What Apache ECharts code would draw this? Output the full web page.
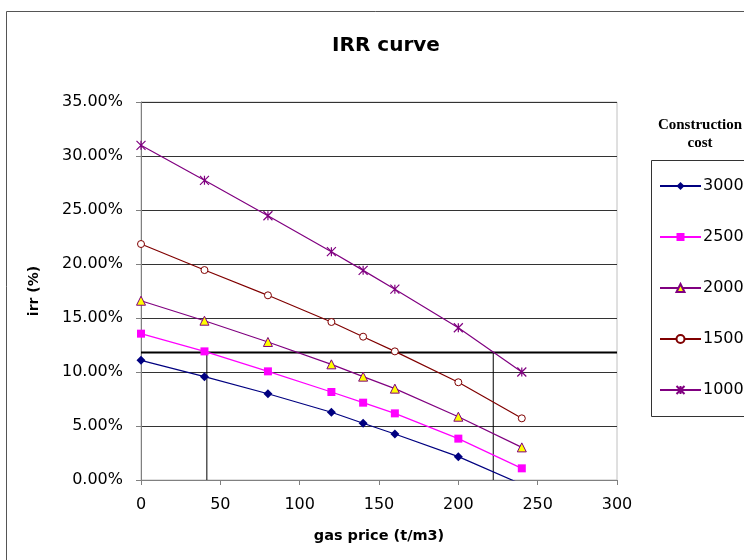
<!DOCTYPE html>
<html>
<head>
<meta charset="utf-8">
<script src="https://cdn.jsdelivr.net/npm/echarts@6/dist/echarts.min.js"></script>
<style>html,body{margin:0;padding:0;background:#fff;}#c{width:744px;height:560px;}</style>
</head>
<body>
<div id="c"></div>
<script>
// gas price (t/m3)
var gasPrice = [0, 40, 80, 120, 140, 160, 200, 240];
// irr (%) per construction cost
var irr3000 = [11.08, 9.57, 7.99, 6.27, 5.25, 4.26, 2.16, -0.4];
var irr2500 = [13.55, 11.91, 10.06, 8.15, 7.16, 6.17, 3.83, 1.08];
var irr2000 = [16.60, 14.75, 12.78, 10.71, 9.57, 8.46, 5.86, 3.02];
var irr1500 = [21.85, 19.44, 17.10, 14.63, 13.27, 11.91, 9.05, 5.71];
var irr1000 = [30.99, 27.75, 24.47, 21.14, 19.41, 17.67, 14.10, 10.00];
var seriesNames = ['3000', '2500', '2000', '1500', '1000'];
// reference lines
var targetIrr = 11.8;
var targetPrices = [41.5, 222];
var xMin = 0, xMax = 300, xStep = 50;
var yMin = 0, yMax = 35, yStep = 5;

function pairs(xs, ys) { return xs.map(function (x, i) { return [x, ys[i]]; }); }

var starPath = 'path://M0,0L10,10M10,0L0,10M5,0L5,10';

var chart = echarts.init(document.getElementById('c'));
var font = 'DejaVu Sans, Verdana, sans-serif';

var series = [
  { name: seriesNames[0], data: pairs(gasPrice, irr3000), color: '#000080', symbol: 'diamond', symbolSize: 9,
    itemStyle: { color: '#000080' } },
  { name: seriesNames[1], data: pairs(gasPrice, irr2500), color: '#FF00FF', symbol: 'rect', symbolSize: 8,
    itemStyle: { color: '#FF00FF' } },
  { name: seriesNames[2], data: pairs(gasPrice, irr2000), color: '#800080', symbol: 'triangle', symbolSize: 9,
    itemStyle: { color: '#FFFF00', borderColor: '#800080', borderWidth: 1 } },
  { name: seriesNames[3], data: pairs(gasPrice, irr1500), color: '#800000', symbol: 'circle', symbolSize: 7,
    itemStyle: { color: '#ffffff', borderColor: '#800000', borderWidth: 1 } },
  { name: seriesNames[4], data: pairs(gasPrice, irr1000), color: '#800080', symbol: starPath, symbolSize: 9,
    itemStyle: { color: 'rgba(0,0,0,0)', borderColor: '#800080', borderWidth: 1.2 } }
].map(function (s) {
  return {
    name: s.name, type: 'line', data: s.data, symbol: s.symbol, symbolSize: s.symbolSize,
    showSymbol: true, clip: true, animation: false,
    lineStyle: { color: s.color, width: 1.2 },
    itemStyle: s.itemStyle, z: 3
  };
});

series.push({
  name: 'target', type: 'line', data: [[xMin, targetIrr], [xMax, targetIrr]],
  symbol: 'none', lineStyle: { color: '#000', width: 2 }, animation: false, z: 2, silent: true
});
targetPrices.forEach(function (p, i) {
  series.push({
    name: 'tp' + i, type: 'line', data: [[p, yMin], [p, targetIrr]],
    symbol: 'none', lineStyle: { color: '#000', width: 1 }, animation: false, z: 2, silent: true
  });
});

chart.setOption({
  backgroundColor: '#fff',
  animation: false,
  title: {
    text: 'IRR curve', left: 381, top: 31, textAlign: 'center',
    textStyle: { fontFamily: font, fontSize: 20, fontWeight: 'bold', color: '#000' }
  },
  grid: { left: 141, top: 102, width: 476, height: 378, show: true, borderColor: '#c0c0c0', borderWidth: 1 },
  legend: {
    data: seriesNames, orient: 'vertical', left: 659, top: 178, padding: 0,
    itemWidth: 41, itemHeight: 10, itemGap: 35,
    textStyle: { fontFamily: font, fontSize: 16, color: '#000', padding: [0, 0, 0, -3] }
  },
  xAxis: {
    type: 'value', min: xMin, max: xMax, interval: xStep,
    name: 'gas price (t/m3)', nameLocation: 'middle', nameGap: 49,
    nameTextStyle: { fontFamily: font, fontSize: 14.5, fontWeight: 'bold', color: '#000' },
    axisLine: { show: true, lineStyle: { color: '#808080', width: 1 } },
    axisTick: { show: true, inside: false, length: 5, lineStyle: { color: '#808080' } },
    axisLabel: { fontFamily: font, fontSize: 16, color: '#000', margin: 17 },
    splitLine: { show: false }
  },
  yAxis: {
    type: 'value', min: yMin, max: yMax, interval: yStep,
    name: 'irr (%)', nameLocation: 'middle', nameGap: 100, nameRotate: 90,
    nameTextStyle: { fontFamily: font, fontSize: 14, fontWeight: 'bold', color: '#000' },
    axisLine: { show: true, lineStyle: { color: '#808080', width: 1 } },
    axisTick: { show: true, inside: false, length: 5, lineStyle: { color: '#808080' } },
    axisLabel: { fontFamily: font, fontSize: 16, color: '#000', margin: 18,
      formatter: function (v) { return v.toFixed(2) + '%'; } },
    splitLine: { show: true, lineStyle: { color: '#333', width: 1 } }
  },
  graphic: [
    { type: 'rect', shape: { x: 6.5, y: 11.5, width: 800, height: 600 }, silent: true, z: -10,
      style: { fill: 'none', stroke: '#555', lineWidth: 1 } },
    { type: 'rect', shape: { x: 651.5, y: 160.5, width: 120, height: 256 }, silent: true, z: -5,
      style: { fill: '#fff', stroke: '#333', lineWidth: 1 } },
    { type: 'text', x: 700, y: 116, silent: true,
      style: { text: 'Construction\ncost', align: 'center', textAlign: 'center', fontFamily: 'Liberation Serif, Times New Roman, serif',
        fontSize: 15, fontWeight: 'bold', fill: '#000', lineHeight: 18 } }
  ],
  series: series
});
</script>
</body>
</html>
